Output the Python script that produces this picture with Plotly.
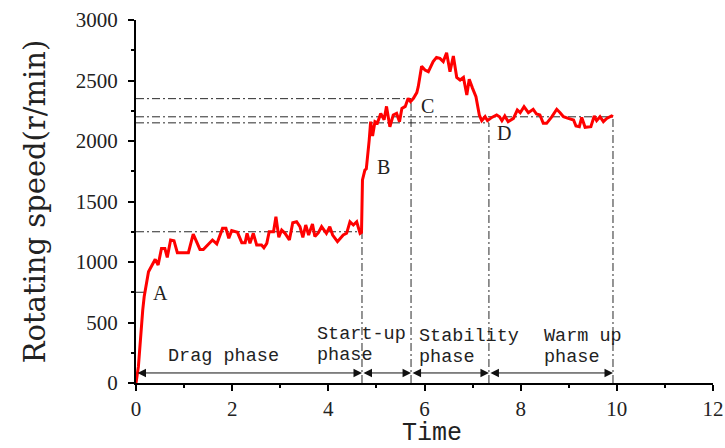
import plotly.graph_objects as go

# Rotating speed record over time
time = [
    0, 0.05, 0.14, 0.17, 0.26, 0.33, 0.40, 0.46, 0.53, 0.60, 0.65, 0.72, 0.79, 0.86,
    1.09, 1.19, 1.33, 1.40, 1.59, 1.68, 1.80, 1.87, 1.93, 1.99, 2.06, 2.11,
    2.20, 2.27, 2.31, 2.37, 2.44, 2.51, 2.61, 2.66, 2.72, 2.77, 2.86, 2.91, 2.97, 3.03, 3.10,
    3.19, 3.26, 3.34, 3.41, 3.47, 3.53, 3.59, 3.67, 3.72, 3.79, 3.86, 3.96, 4.03, 4.09,
    4.19, 4.31, 4.38, 4.45, 4.52, 4.59, 4.66, 4.69,
    4.71, 4.76, 4.79, 4.85, 4.88, 4.92, 4.97, 5.02, 5.09, 5.16, 5.21, 5.28, 5.35, 5.42, 5.48, 5.53, 5.60,
    5.66, 5.71, 5.77, 5.84, 5.87, 5.94, 6.01, 6.08, 6.18, 6.25, 6.32, 6.39, 6.46, 6.53,
    6.60, 6.67, 6.74, 6.81, 6.88, 6.93, 7.00, 7.07, 7.14, 7.19, 7.26, 7.31,
    7.40, 7.50, 7.56, 7.61, 7.67, 7.74, 7.85, 7.93, 7.99, 8.07, 8.16,
    8.26, 8.33, 8.40, 8.47, 8.54, 8.65, 8.75, 8.82, 8.89, 8.99, 9.10, 9.15,
    9.22, 9.27, 9.34, 9.46, 9.53, 9.58, 9.65, 9.72, 9.79, 9.89, 9.92,
]
speed = [
    0, 135, 603, 713, 920, 975, 1022, 975, 1112, 1112, 1038, 1182, 1176, 1077,
    1077, 1231, 1104, 1104, 1182, 1149, 1278, 1278, 1196, 1259, 1251, 1245,
    1160, 1160, 1237, 1154, 1237, 1140, 1140, 1118, 1154, 1251, 1251, 1375, 1204, 1264, 1237,
    1182, 1325, 1333, 1292, 1204, 1306, 1223, 1314, 1210, 1240, 1292, 1237, 1292, 1223,
    1168, 1223, 1237, 1333, 1306, 1333, 1237, 1245,
    1678, 1760, 1770, 2008, 2160, 2041, 2160, 2149, 2228, 2176, 2286, 2118, 2215, 2228, 2160, 2270, 2286,
    2353, 2325, 2353, 2400, 2449, 2617, 2587, 2573, 2656, 2691, 2683, 2656, 2730, 2573,
    2702, 2526, 2504, 2526, 2380, 2510, 2435, 2366, 2215, 2168, 2201, 2168,
    2195, 2215, 2200, 2168, 2207, 2160, 2187, 2256, 2234, 2284, 2234,
    2262, 2223, 2215, 2146, 2146, 2201, 2262, 2234, 2201, 2187, 2174, 2124,
    2118, 2195, 2113, 2118, 2207, 2168, 2201, 2160, 2187, 2207, 2200,
]

# Characteristic points A-D
point_names = ["A", "B", "C", "D"]
point_x = [0.31, 4.97, 5.89, 7.46]
point_y = [744, 1785, 2289, 2066]

# Guide levels: horizontal (speed, end time) and vertical (time, top speed)
hguide_speed = [750, 1250, 2350, 2200, 2150]
hguide_end = [0.19, 4.70, 5.72, 9.92, 7.34]
vguide_time = [4.70, 5.72, 7.34, 9.92]
vguide_top = [1250, 2350, 2150, 2200]

# Phase boundaries and labels
phase_bounds = [0, 4.70, 5.72, 7.34, 9.92]
arrow_level = 83
phase_line1 = ["Drag phase", "Start-up", "Stability", "Warm up"]
phase_line2 = ["", "phase", "phase", "phase"]
phase_x = [0.62, 3.72, 5.84, 8.44]
phase_y1 = [215, 400, 388, 385]
phase_y2 = [None, 225, 209, 207]

x_ticks = [0, 2, 4, 6, 8, 10, 12]
y_ticks = [0, 500, 1000, 1500, 2000, 2500, 3000]
x_title = "Time"
y_title = "Rotating speed(r/min)"

SERIF = "Liberation Serif"
MONO = "Liberation Mono"
GUIDE = dict(color="#2a2a2a", width=1, dash="8px,3px,2px,3px")

fig = go.Figure()

# Guide lines
gx, gy = [], []
for s, e in zip(hguide_speed, hguide_end):
    gx += [0, e, None]
    gy += [s, s, None]
for t, top in zip(vguide_time, vguide_top):
    gx += [t, t, None]
    gy += [0, top, None]
fig.add_trace(go.Scatter(x=gx, y=gy, mode="lines", line=GUIDE,
                         hoverinfo="skip", showlegend=False))

# Speed curve
fig.add_trace(go.Scatter(x=time, y=speed, mode="lines",
                         line=dict(color="#ff0000", width=3),
                         showlegend=False))

annotations = []
for name, px_, py_ in zip(point_names, point_x, point_y):
    annotations.append(dict(x=px_, y=py_, text=name, showarrow=False,
                            xanchor="left", yanchor="middle",
                            font=dict(family=SERIF, size=20, color="#222")))

# Double-headed phase arrows
for a, b in zip(phase_bounds[:-1], phase_bounds[1:]):
    annotations.append(dict(x=b, y=arrow_level, ax=a, ay=arrow_level,
                            xref="x", yref="y", axref="x", ayref="y",
                            text="", showarrow=True, arrowside="end+start",
                            arrowhead=2, arrowsize=1.7, arrowwidth=1,
                            arrowcolor="#111", standoff=0, startstandoff=0))

for t1, t2, x, y1, y2 in zip(phase_line1, phase_line2, phase_x, phase_y1, phase_y2):
    annotations.append(dict(x=x, y=y1, text=t1, showarrow=False,
                            xanchor="left", yanchor="middle",
                            font=dict(family=MONO, size=18.5, color="#222")))
    if t2:
        annotations.append(dict(x=x, y=y2, text=t2, showarrow=False,
                                xanchor="left", yanchor="middle",
                                font=dict(family=MONO, size=18.5, color="#222")))

# X axis title, placed beneath the tick labels
annotations.append(dict(x=0.513, y=-0.14, xref="paper", yref="paper",
                        text=x_title, showarrow=False,
                        xanchor="center", yanchor="middle",
                        font=dict(family=MONO, size=25, color="#222")))

fig.update_layout(
    width=725, height=448,
    margin=dict(l=136, r=12, t=20, b=65, autoexpand=False),
    plot_bgcolor="white", paper_bgcolor="white",
    annotations=annotations,
)

axis_common = dict(
    showline=True, linecolor="black", linewidth=2,
    ticks="outside", ticklen=6, tickwidth=2, tickcolor="black",
    showgrid=False, zeroline=False, mirror=False,
    tickfont=dict(family=SERIF, size=21, color="#222"),
)

fig.update_xaxes(range=[0, 12], tickvals=x_ticks, automargin=False,
                 minor=dict(dtick=1, ticklen=3, tickwidth=2, tickcolor="black", ticks="outside"),
                 **axis_common)
fig.update_yaxes(range=[0, 3000], tickvals=y_ticks, automargin=False,
                 minor=dict(dtick=250, ticklen=3, tickwidth=2, tickcolor="black", ticks="outside"),
                 ticklabelstandoff=6,
                 title=dict(text=y_title, font=dict(family="DejaVu Serif", size=29, color="#222"),
                            standoff=22),
                 **axis_common)

fig.write_html("out.html")
